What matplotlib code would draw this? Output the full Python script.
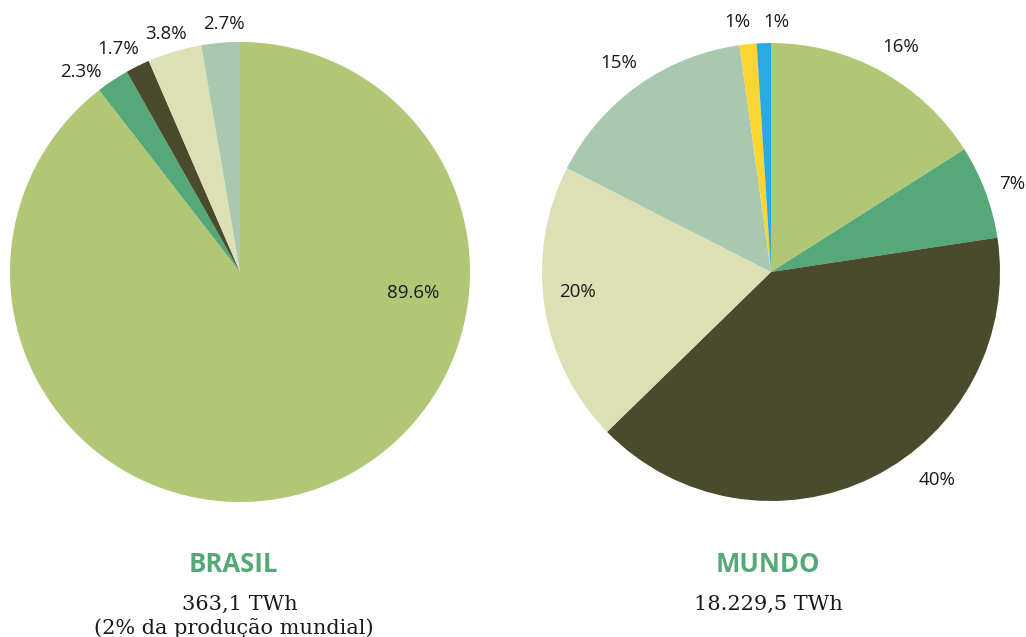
import matplotlib.pyplot as plt

W, H = 1026, 637

brasil_vals = [89.6, 2.3, 1.7, 3.8, 2.7]
brasil_labels = ["89.6%", "2.3%", "1.7%", "3.8%", "2.7%"]
brasil_colors = ["#b2c776", "#55a878", "#4a4a2c", "#dde0b5", "#a8c8b0"]
# label positions in pie units (radius = 1)
brasil_label_pos = [(0.752, -0.091), (-0.691, 0.870), (-0.530, 0.970),
                    (-0.322, 1.035), (-0.070, 1.078)]

mundo_vals = [16.0, 6.6, 40.1, 19.8, 15.3, 1.2, 1.0]
mundo_labels = ["16%", "7%", "40%", "20%", "15%", "1%", "1%"]
mundo_colors = ["#b2c776", "#55a878", "#4a4a2c", "#dde0b5", "#a8c8b0",
                "#fcd630", "#29abe2"]
mundo_label_pos = [(0.568, 0.983), (1.052, 0.384), (0.725, -0.908),
                   (-0.843, -0.087), (-0.664, 0.913), (-0.148, 1.092),
                   (0.022, 1.092)]

fig = plt.figure(figsize=(W / 100, H / 100), dpi=100)


def pie_axes(cx, cy, r):
    return fig.add_axes([(cx - r) / W, (H - cy - r) / H, 2 * r / W, 2 * r / H])


def draw_pie(ax, vals, colors, labels, pos):
    ax.pie(vals, colors=colors, startangle=90, counterclock=False,
           wedgeprops=dict(linewidth=0))
    ax.set_xlim(-1, 1)
    ax.set_ylim(-1, 1)
    for lab, (x, y) in zip(labels, pos):
        ax.text(x, y, lab, ha="center", va="center", fontsize=13.5,
                family="Open Sans", color="#1a1a1a", clip_on=False)


ax1 = pie_axes(240, 272, 230)
draw_pie(ax1, brasil_vals, brasil_colors, brasil_labels, brasil_label_pos)

ax2 = pie_axes(771, 272, 229)
draw_pie(ax2, mundo_vals, mundo_colors, mundo_labels, mundo_label_pos)

green = "#55a878"
fig.text(233 / W, 1 - 565 / H, "BRASIL", ha="center", va="center",
         fontsize=18.5, weight="bold", family="Open Sans", color=green)
fig.text(240 / W, 1 - 604 / H, "363,1 TWh", ha="center", va="center",
         fontsize=15, family="DejaVu Serif", color="#1a1a1a")
fig.text(234 / W, 1 - 628 / H, "(2% da produção mundial)", ha="center",
         va="center", fontsize=15, family="DejaVu Serif", color="#1a1a1a")

fig.text(768 / W, 1 - 565 / H, "MUNDO", ha="center", va="center",
         fontsize=18.5, weight="bold", family="Open Sans", color=green)
fig.text(768 / W, 1 - 604 / H, "18.229,5 TWh", ha="center", va="center",
         fontsize=15, family="DejaVu Serif", color="#1a1a1a")

fig.savefig("out.png", dpi=100)
